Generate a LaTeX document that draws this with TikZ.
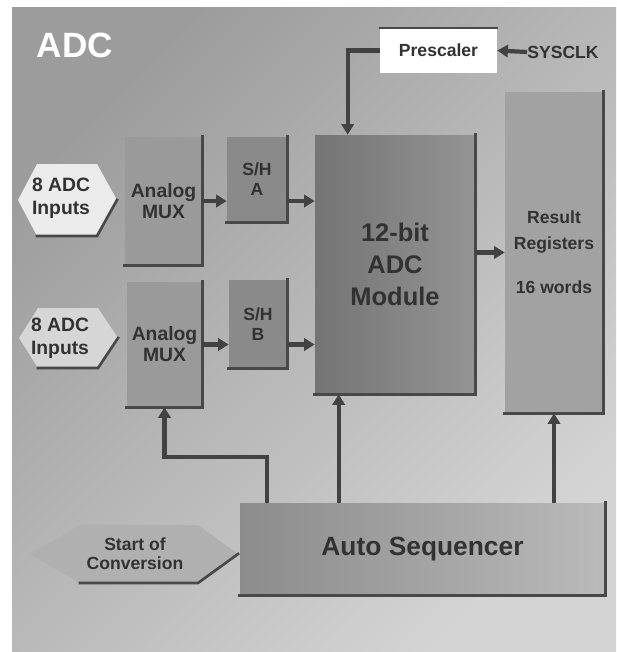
\documentclass[tikz,border=0pt]{standalone}
\usepackage{fontspec}
\setmainfont{Liberation Sans}
\usetikzlibrary{arrows.meta, calc}
\definecolor{bgDark}{RGB}{156,156,156}
\definecolor{bgMid}{RGB}{198,198,198}
\definecolor{bgLight}{RGB}{212,212,212}
\definecolor{txtColor}{RGB}{50,50,50}
\definecolor{lineColor}{RGB}{66,66,66}
\definecolor{rimColor}{RGB}{72,72,72}
\definecolor{adcDark}{RGB}{116,116,116}
\definecolor{adcLight}{RGB}{148,148,148}
\definecolor{muxColor}{RGB}{154,154,154}
\definecolor{shColor}{RGB}{138,138,138}
\definecolor{resColor}{RGB}{162,162,162}
\definecolor{seqDark}{RGB}{140,140,140}
\definecolor{seqLight}{RGB}{186,186,186}
\definecolor{hexColor}{RGB}{176,176,176}

\begin{document}
\begin{tikzpicture}[x=0.02cm, y=-0.02cm,
    box/.style={inner sep=0pt, text=txtColor, align=center},
    txtS/.style={font=\fontsize{10}{11.5}\selectfont\bfseries},
    txtM/.style={font=\fontsize{11}{12}\selectfont\bfseries},
    txtL/.style={font=\fontsize{14.5}{18}\selectfont\bfseries},
    link/.style={line width=2.4pt, lineColor, -{Triangle[length=6pt,width=7pt]}},
    rim/.style={line width=1.5pt, rimColor, line cap=rect}]
  % Hintergrund
  \useasboundingbox (0,0) rectangle (616,652);
  \fill[white] (0,0) rectangle (616,652);
  \shade[top color=bgDark, middle color=bgMid, bottom color=bgLight, shading angle=45] (12,8) rectangle (616,652);

  % Titel
  \node[text=white, font=\fontsize{20}{24}\selectfont\bfseries] (title) at (75,45) {ADC};

  % Eingangssymbole
  \coordinate (inAC) at (67,200);
  \fill[white!92!black] ($(inAC)+(-49,0)$) -- ++(19,-36) -- ++(60,0) -- ++(20,36) -- ++(-20,36) -- ++(-60,0) -- cycle;
  \draw[rim] ($(inAC)+(-30,36)$) -- ++(60,0) -- ++(20,-36);
  \node[box, font=\fontsize{11}{13}\selectfont\bfseries] (inA) at ($(inAC)+(-6,-2)$) {8 ADC\\Inputs};

  \coordinate (inBC) at (68,338);
  \fill[bgLight!96!white] ($(inBC)+(-49,0)$) -- ++(19,-30) -- ++(60,0) -- ++(20,30) -- ++(-20,30) -- ++(-60,0) -- cycle;
  \draw[rim] ($(inBC)+(-30,30)$) -- ++(60,0) -- ++(20,-30);
  \node[box, font=\fontsize{11}{13}\selectfont\bfseries] (inB) at ($(inBC)+(-8,0)$) {8 ADC\\Inputs};

  \coordinate (socC) at (135,554);
  \fill[hexColor] ($(socC)+(-105,0)$) -- ++(50,-29) -- ++(118,0) -- ++(40,29) -- ++(-40,29) -- ++(-118,0) -- cycle;
  \draw[rim] ($(socC)+(-55,29)$) -- ++(118,0) -- ++(40,-29);
  \node[box, font=\fontsize{10}{11}\selectfont\bfseries] (soc) at (socC) {Start of\\Conversion};

  % Bloecke
  \node[box, txtS, fill=white, minimum width=2.34cm, minimum height=0.9cm] (prescaler) at (438.5,50.5) {Prescaler};
  \node[text=txtColor, txtS, inner sep=0pt] (sysclk) at (563,52) {SYSCLK};
  \node[box, txtL, left color=adcDark, right color=adcLight, minimum width=3.2cm, minimum height=5.18cm] (adc) at (395,264.5) {12-bit\\ADC\\Module};
  \node[box, font=\fontsize{10}{15}\selectfont\bfseries, fill=resColor, minimum width=1.96cm, minimum height=6.42cm] (result) at (554,252.5) {Result\\Registers\\[10pt]16 words};
  \node[box, txtM, fill=muxColor, minimum width=1.54cm, minimum height=2.56cm] (muxA) at (163.5,201) {Analog\\MUX};
  \node[box, txtM, fill=muxColor, minimum width=1.5cm, minimum height=2.5cm] (muxB) at (164.5,344.5) {Analog\\MUX};
  \node[box, txtS, fill=shColor, minimum width=1.2cm, minimum height=1.7cm] (shA) at (257,179.5) {S/H\\A};
  \node[box, txtS, fill=shColor, minimum width=1.16cm, minimum height=1.76cm] (shB) at (258,324) {S/H\\B};
  \node[box, font=\fontsize{15}{18}\selectfont\bfseries, left color=seqDark, right color=seqLight, minimum width=7.3cm, minimum height=1.84cm] (seq) at (422.5,549) {Auto Sequencer};

  % Schattenkanten
  \foreach \n in {adc,result,muxA,muxB,shA,shB,seq}
    \draw[rim] (\n.north east) -- (\n.south east) -- (\n.south west);
  \draw[rim, line width=1pt] (prescaler.north west) -- (prescaler.north east);

  % Verbindungen
  \draw[link] (sysclk.west) -- (prescaler.east);
  \coordinate (clkIn) at ($(adc.north west)+(33,0)$);
  \draw[link] (prescaler.west) -| (clkIn);
  \draw[link] (muxA.east) -- (muxA.east -| shA.west);
  \draw[link] (shA.east |- muxA.east) -- (muxA.east -| adc.west);
  \draw[link] (muxB.east) -- (muxB.east -| shB.west);
  \draw[link] (shB.east |- muxB.east) -- (muxB.east -| adc.west);
  \draw[link] (adc.east |- result.west) -- (result.west);
  \coordinate (seqMux) at ($(seq.north west)+(27,0)$);
  \coordinate (seqAdc) at ($(seq.north west)+(99,0)$);
  \draw[link] (seqMux) -- ++(0,-46) -| (muxB.south);
  \draw[link] (seqAdc) -- (seqAdc |- adc.south);
  \draw[link] (result.south |- seq.north) -- (result.south);
\end{tikzpicture}
\end{document}
